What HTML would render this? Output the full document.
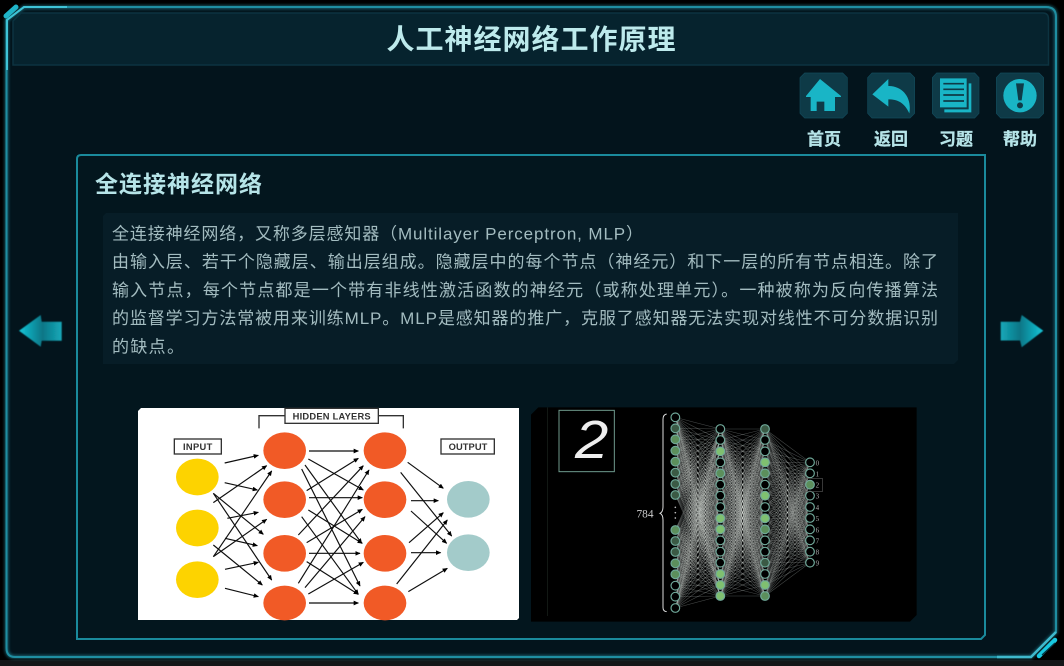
<!DOCTYPE html>
<html lang="zh"><head><meta charset="utf-8"><title>人工神经网络工作原理</title>
<style>
html,body{margin:0;padding:0;background:#000;width:1064px;height:666px;overflow:hidden}
svg{display:block}
text{font-family:"Liberation Sans","Noto Sans CJK SC",sans-serif}
.b{font-weight:bold;fill:#b6e4e8}
.t{font-size:17px;fill:#a3bcc0}
.lab{font-weight:bold;font-size:17px;fill:#b6e4e8;text-anchor:middle;stroke:#b6e4e8;stroke-width:.3}
.ar line{stroke:#111;stroke-width:3.5;marker-end:url(#ah)}
.ic{fill:#19b5c6}
</style></head><body>
<svg xmlns="http://www.w3.org/2000/svg" width="1064" height="666" viewBox="0 0 1064 666">
<defs>
<marker id="ah" markerWidth="5" markerHeight="5" refX="4" refY="2" orient="auto"><path d="M0 0L4.5 2L0 4Z" fill="#000"/></marker>
<linearGradient id="al" x1="0" x2="1" y1="0" y2="0"><stop offset="0" stop-color="#14c6d8"/><stop offset=".55" stop-color="#0b7686"/><stop offset="1" stop-color="#15a9b9"/></linearGradient>
<linearGradient id="ar" x1="0" x2="1" y1="0" y2="0"><stop offset="0" stop-color="#15a9b9"/><stop offset=".45" stop-color="#0b7686"/><stop offset="1" stop-color="#14c6d8"/></linearGradient>
<filter id="gl" x="-5%" y="-5%" width="110%" height="110%"><feGaussianBlur stdDeviation="1.6"/></filter>
<filter id="s1"><feGaussianBlur stdDeviation="0.35"/></filter>
<filter id="s2"><feGaussianBlur stdDeviation="0.6"/></filter>
</defs>

<rect width="1064" height="666" fill="#000"/>
<rect y="660" width="1064" height="6" fill="#141618"/>
<path d="M6.500 20L24 7H1046Q1056 7 1056 17V632L1031 657H15Q6.500 657 6.500 648Z" fill="#03141c"/>
<path d="M6.500 20L24 7H1046Q1056 7 1056 17V632L1031 657H15Q6.500 657 6.500 648Z" fill="none" stroke="#2fb6cc" stroke-width="3" filter="url(#gl)" opacity=".6"/>
<path d="M6.500 20L24 7H1046Q1056 7 1056 17V632L1031 657H15Q6.500 657 6.500 648Z" fill="none" stroke="#1f8ea1" stroke-width="2"/>
<path d="M7 70V20L24 7H67" fill="none" stroke="#3fc3d6" stroke-width="2"/>
<path d="M6 16L16 7" stroke="#1fb4c8" stroke-width="5" stroke-linecap="round"/>
<path d="M997 657H1031L1056 632" fill="none" stroke="#3fb9cc" stroke-width="2.500"/>
<path d="M1039 656L1055 640" stroke="#18c8e0" stroke-width="4.500" stroke-linecap="round"/>
<path d="M1042 655L1055 643" stroke="#063440" stroke-width="1.200"/>

<!-- title -->
<path d="M13 21L21 13H1043Q1048.500 13 1048.500 19V65H13Z" fill="#06232e" stroke="#0c3340" stroke-width="1.500"/>
<text x="531" y="49" class="b" font-size="28" text-anchor="middle" textLength="289" lengthAdjust="spacing" style="fill:#bdeaec">人工神经网络工作原理</text>

<!-- buttons -->
<g transform="translate(780 0) scale(.33333)">
<g fill="#0e3a47" stroke="#12495a" stroke-width="2">
<path d="M74 219H188L202 233V340L188 354H74L60 340V233Z"/>
<path d="M276 219H390L404 233V340L390 354H276L263 340V233Z"/>
<path d="M470 219H584L597 233V340L584 354H470L457 340V233Z"/>
<path d="M662 219H777L791 233V340L777 354H662L649 340V233Z"/>
</g>
<path class="ic" d="M120 237L183 288L183 291H165V333H133V305H110V333H92V291H78V288Z"/>
<path class="ic" d="M277 283L325 237V258C370 258 396 295 388 340C372 305 350 298 325 298V320Z"/>
<path class="ic" d="M493 250H574V337H493Z"/><path d="M487 242H566V328H487Z" fill="#0e3a47"/>
<path class="ic" d="M480 235H560V322H480Z"/>
<path d="M490 251H552M490 268H552M490 285H552M490 303H552" stroke="#0e3a47" stroke-width="5"/>
<circle class="ic" cx="720" cy="287" r="50"/>
<path d="M708 250H732L725 301H715Z" fill="#0e3a47"/><circle cx="720" cy="316" r="9" fill="#0e3a47"/>
</g>
<text x="824" y="145" class="lab">首页</text>
<text x="891" y="145" class="lab">返回</text>
<text x="956" y="145" class="lab">习题</text>
<text x="1020" y="145" class="lab">帮助</text>

<!-- nav arrows -->
<path d="M19 330.700L40.700 315L41.700 321.700H61.700V340.700H41.700L40.700 346.700Z" fill="url(#al)" filter="url(#s2)"/>
<path d="M1000.700 321.700H1020L1021.700 315L1043.300 330.700L1021.700 347.300L1020 340.500H1000.700Z" fill="url(#ar)" filter="url(#s2)"/>

<!-- main panel -->
<path d="M77 159Q77 155 81 155H985V635L981 639H77Z" fill="#03161e" stroke="#1a8a9c" stroke-width="2"/>
<text x="95" y="192" class="b" font-size="23" textLength="167" lengthAdjust="spacing">全连接神经网络</text>
<path d="M106 213H958V360L954 364H103V216Z" fill="#071d27"/>
<text class="t" x="112" y="239.500" textLength="531" lengthAdjust="spacing">全连接神经网络，又称多层感知器（Multilayer Perceptron, MLP）</text>
<text class="t" x="112" y="267.500" textLength="826" lengthAdjust="spacing">由输入层、若干个隐藏层、输出层组成。隐藏层中的每个节点（神经元）和下一层的所有节点相连。除了</text>
<text class="t" x="112" y="296" textLength="826" lengthAdjust="spacing">输入节点，每个节点都是一个带有非线性激活函数的神经元（或称处理单元）。一种被称为反向传播算法</text>
<text class="t" x="112" y="324" textLength="826" lengthAdjust="spacing">的监督学习方法常被用来训练MLP。MLP是感知器的推广，克服了感知器无法实现对线性不可分数据识别</text>
<text class="t" x="112" y="352.500" textLength="72" lengthAdjust="spacing">的缺点。</text>

<!-- left image -->
<g filter="url(#s1)">
<path d="M141 408H519V618L517 620H138V411Z" fill="#fff"/>
<g transform="translate(130 400) scale(.33333)">
<g fill="#fdd304"><ellipse cx="202" cy="231" rx="64" ry="55"/><ellipse cx="202" cy="384" rx="64" ry="55"/><ellipse cx="202" cy="539" rx="64" ry="55"/></g>
<g fill="#f15a26">
<ellipse cx="464" cy="152" rx="64" ry="55"/><ellipse cx="464" cy="299" rx="64" ry="55"/><ellipse cx="464" cy="460" rx="64" ry="55"/><ellipse cx="464" cy="609" rx="64" ry="52"/>
<ellipse cx="765" cy="152" rx="64" ry="55"/><ellipse cx="765" cy="299" rx="64" ry="55"/><ellipse cx="765" cy="460" rx="64" ry="55"/><ellipse cx="765" cy="609" rx="64" ry="52"/>
</g>
<g fill="#a3cbca"><ellipse cx="1015" cy="298" rx="64" ry="55"/><ellipse cx="1015" cy="458" rx="64" ry="55"/></g>
<g class="ar">
<line x1="284" y1="189" x2="385" y2="166"/><line x1="284" y1="248" x2="382" y2="270"/><line x1="250" y1="308" x2="410" y2="197"/><line x1="250" y1="280" x2="400" y2="403"/><line x1="250" y1="280" x2="425" y2="540"/><line x1="292" y1="355" x2="385" y2="337"/><line x1="285" y1="415" x2="382" y2="437"/><line x1="250" y1="470" x2="425" y2="213"/><line x1="250" y1="470" x2="410" y2="358"/><line x1="250" y1="435" x2="397" y2="555"/><line x1="285" y1="508" x2="385" y2="487"/><line x1="285" y1="565" x2="385" y2="590"/>
<line x1="537" y1="153" x2="685" y2="153"/><line x1="535" y1="177" x2="700" y2="270"/><line x1="525" y1="195" x2="695" y2="430"/><line x1="515" y1="207" x2="690" y2="558"/><line x1="530" y1="272" x2="685" y2="175"/><line x1="537" y1="293" x2="697" y2="293"/><line x1="535" y1="330" x2="697" y2="430"/><line x1="515" y1="350" x2="685" y2="583"/><line x1="505" y1="405" x2="700" y2="197"/><line x1="530" y1="428" x2="697" y2="328"/><line x1="537" y1="460" x2="690" y2="460"/><line x1="530" y1="485" x2="685" y2="583"/><line x1="505" y1="550" x2="717" y2="210"/><line x1="525" y1="563" x2="705" y2="350"/><line x1="535" y1="582" x2="700" y2="487"/><line x1="537" y1="609" x2="685" y2="609"/>
<line x1="833" y1="187" x2="940" y2="265"/><line x1="812" y1="217" x2="965" y2="408"/><line x1="843" y1="302" x2="925" y2="302"/><line x1="843" y1="333" x2="950" y2="430"/><line x1="837" y1="428" x2="940" y2="338"/><line x1="843" y1="458" x2="932" y2="458"/><line x1="800" y1="552" x2="952" y2="360"/><line x1="835" y1="575" x2="952" y2="505"/>
</g>
<g fill="#fff" stroke="#333" stroke-width="4">
<rect x="133" y="117" width="141" height="45"/><rect x="465" y="25" width="280" height="45"/><rect x="933" y="117" width="160" height="45"/>
</g>
<path d="M387 85V47H465M745 47H820V85" fill="none" stroke="#333" stroke-width="4"/>
<g font-size="28" font-weight="bold" fill="#333" text-anchor="middle">
<text x="203" y="150" textLength="88" lengthAdjust="spacing">INPUT</text>
<text x="605" y="58" textLength="234" lengthAdjust="spacing">HIDDEN LAYERS</text>
<text x="1014" y="150" textLength="116" lengthAdjust="spacing">OUTPUT</text>
</g>
</g>
</g>

<!-- right image -->
<g transform="translate(525 400) scale(.33333)" filter="url(#s1)">
<path d="M40 22H1175V645L1155 665H18V44Z" fill="#010203"/>
<path d="M67 22V648" stroke="#17231f" stroke-width="2"/>
<rect x="102" y="31" width="166" height="184" fill="#000" stroke="#6f9a8c" stroke-width="3"/>
<text x="200" y="174" font-size="160" font-style="italic" fill="#eee" text-anchor="middle" textLength="100" lengthAdjust="spacingAndGlyphs">2</text>
<g id="edges" stroke="#f0f5f0" stroke-width="1.600" stroke-opacity=".3"></g>
<path d="M425 42Q414 44 414 58V320Q414 336 405 340Q414 344 414 360V622Q414 634 425 635" fill="none" stroke="#ddd" stroke-width="3"/>
<text x="360" y="352" font-size="34" fill="#ccc" text-anchor="middle" style="font-family:'Liberation Serif',serif">784</text>
<g id="nodes" stroke="#70a99a" stroke-width="3.500"></g>
<g fill="#bbb"><circle cx="451" cy="322" r="2.500"/><circle cx="451" cy="338" r="2.500"/><circle cx="451" cy="354" r="2.500"/></g>
<rect x="836" y="235" width="56" height="40" fill="none" stroke="#555" stroke-width="2"/>
<g font-size="21" fill="#aaa">
<text x="872" y="196" style="font-family:'Liberation Serif',serif">0</text><text x="872" y="229" style="font-family:'Liberation Serif',serif">1</text><text x="872" y="263" style="font-family:'Liberation Serif',serif">2</text><text x="872" y="296" style="font-family:'Liberation Serif',serif">3</text><text x="872" y="330" style="font-family:'Liberation Serif',serif">4</text><text x="872" y="363" style="font-family:'Liberation Serif',serif">5</text><text x="872" y="397" style="font-family:'Liberation Serif',serif">6</text><text x="872" y="430" style="font-family:'Liberation Serif',serif">7</text><text x="872" y="464" style="font-family:'Liberation Serif',serif">8</text><text x="872" y="497" style="font-family:'Liberation Serif',serif">9</text>
</g>
</g>
</svg>
<script>
(function(){
var NS="http://www.w3.org/2000/svg";
var c1=[52,85,118,152,185,218,252,285,390,423,456,490,523,557,590,624];
var c2=[87,120,154,187,220,254,287,321,355,388,421,455,488,522,555,588];
var c4=[187,220,254,287,321,354,388,421,455,488];
var k="#000",b="#7fc06f",m="#5c8f5c",d="#3a5a45";
var cols=[
[451,c1,[k,d,m,m,m,d,d,d,m,d,d,m,m,k,k,k]],
[586,c2,[k,k,b,k,m,k,k,k,b,b,k,k,k,b,b,b]],
[720,c2,[d,k,k,b,m,k,b,k,b,m,k,k,d,k,b,m]],
[855,c4,[k,k,m,k,k,k,k,k,k,k]]];
var e=document.getElementById("edges"),n=document.getElementById("nodes");
for(var i=0;i<3;i++){var A=cols[i],B=cols[i+1];
 A[1].forEach(function(y1){B[1].forEach(function(y2){
  var l=document.createElementNS(NS,"line");
  l.setAttribute("x1",A[0]);l.setAttribute("y1",y1);l.setAttribute("x2",B[0]);l.setAttribute("y2",y2);
  e.appendChild(l);});});}
cols.forEach(function(C){C[1].forEach(function(y,i){
 var o=document.createElementNS(NS,"circle");
 o.setAttribute("cx",C[0]);o.setAttribute("cy",y);o.setAttribute("r",13);o.setAttribute("fill",C[2][i]);
 n.appendChild(o);});});
})();
</script>
</body></html>
